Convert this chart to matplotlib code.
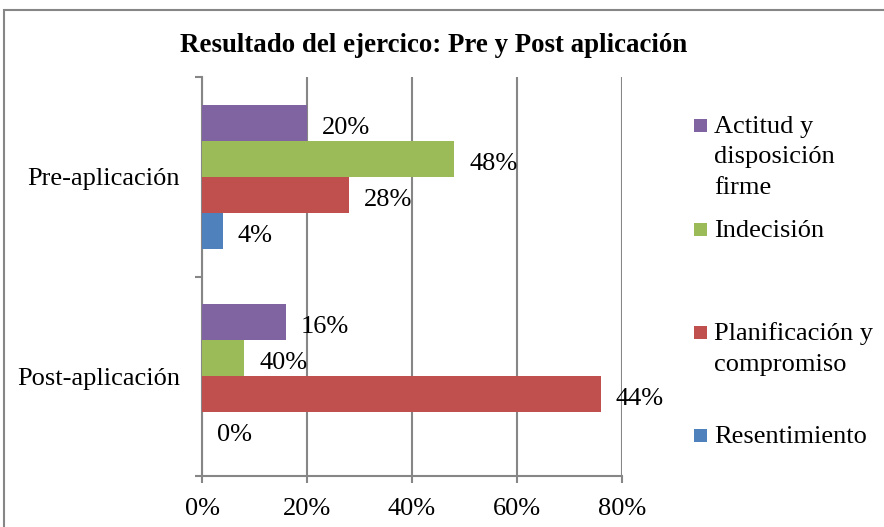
# -*- coding: utf-8 -*-
"""Resultado del ejercicio: barras horizontales pre y post aplicación."""

import matplotlib
matplotlib.use('Agg')
import matplotlib.pyplot as plt
from matplotlib.patches import Rectangle

# Datos
categorias = ['Pre-aplicación', 'Post-aplicación']
series = ['Actitud y\ndisposición\nfirme', 'Indecisión',
          'Planificación y\ncompromiso', 'Resentimiento']
colores = ['#8064A2', '#9BBB59', '#C0504D', '#4F81BD']

actitud = [20, 16]
indecision = [48, 8]
planificacion = [28, 76]
resentimiento = [4, 0]
valores = [actitud, indecision, planificacion, resentimiento]

# etiquetas tal como aparecen en el gráfico original
etq_actitud = ['20%', '16%']
etq_indecision = ['48%', '40%']
etq_planificacion = ['28%', '44%']
etq_resentimiento = ['4%', '0%']
etiquetas = [etq_actitud, etq_indecision, etq_planificacion, etq_resentimiento]

ticks_x = [0, 20, 40, 60, 80]

plt.rcParams['font.family'] = ['Liberation Serif', 'DejaVu Serif']
fs = 19
gris = '#868686'

W, H = 884, 527
fig = plt.figure(figsize=(W / 100, H / 100), dpi=100)
ax = fig.add_axes([202 / W, 1 - 476 / H, 420 / W, 399 / H])

# posiciones: Pre arriba (1), Post abajo (0)
pos_cat = [1, 0]
alto = 0.18
desp = [1.5, 0.5, -0.5, -1.5]

for vals, etqs, col, d in zip(valores, etiquetas, colores, desp):
    ys = [p + d * alto for p in pos_cat]
    ax.barh(ys, vals, height=alto, color=col, edgecolor='none', zorder=3)
    for y, v, t in zip(ys, vals, etqs):
        ax.annotate(t, (v, y), xytext=(15, -5), textcoords='offset pixels',
                    ha='left', va='center', fontsize=fs, zorder=4)

ax.set_xlim(0, 80)
ax.set_ylim(-0.5, 1.5)
ax.set_xticks(ticks_x)
ax.set_xticklabels([f'{t}%' for t in ticks_x], fontsize=fs)
ax.set_yticks(pos_cat)
ax.set_yticklabels(categorias, fontsize=fs)
ax.set_yticks([-0.5, 0.5, 1.5], minor=True)

ax.grid(axis='x', color=gris, linewidth=1.5, zorder=0)
for s in ['top', 'right']:
    ax.spines[s].set_visible(False)
for s in ['left', 'bottom']:
    ax.spines[s].set_color(gris)
    ax.spines[s].set_linewidth(1.5)
ax.tick_params(axis='y', which='major', length=0, pad=16)
ax.tick_params(axis='y', which='minor', length=5, width=1.5, color=gris)
ax.tick_params(axis='x', length=5, width=1.5, color=gris, pad=11)

# título
fig.text(434 / W, 1 - 45 / H, 'Resultado del ejercico: Pre y Post aplicación',
         ha='center', va='center', fontsize=19.4, fontweight='bold')

# leyenda manual (el cuadro se alinea con la primera línea)
bases = [133, 237, 340, 443]
paso = 30.5
for nombre, col, b in zip(series, colores, bases):
    fig.patches.append(Rectangle((694 / W, 1 - (b - 1) / H), 13 / W, 13 / H,
                                 transform=fig.transFigure, facecolor=col,
                                 edgecolor='none'))
    for i, linea in enumerate(nombre.split('\n')):
        fig.text(714 / W, 1 - (b + i * paso) / H, linea, ha='left',
                 va='baseline', fontsize=fs)

# borde del área del gráfico
fig.patches.append(Rectangle((4 / W, -0.1), 1.2, 1.1 - 10 / H,
                             transform=fig.transFigure, fill=False,
                             edgecolor=gris, linewidth=1.5))

fig.savefig('out.png', dpi=100)
